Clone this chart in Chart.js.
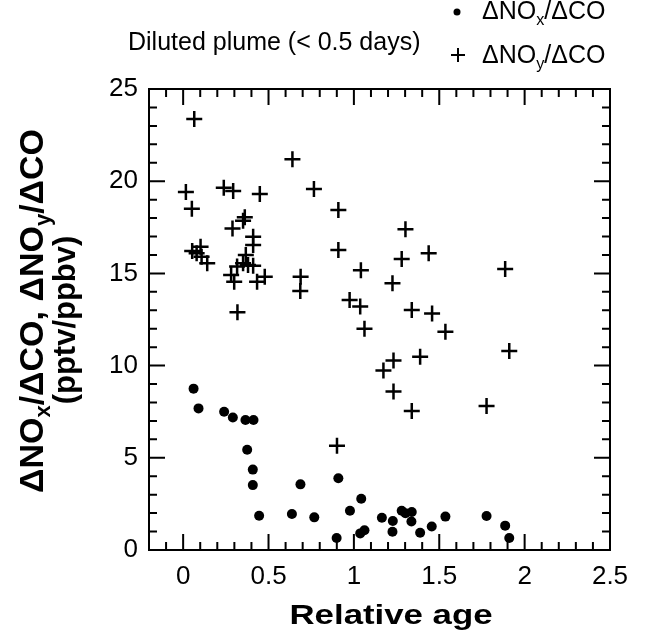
<!DOCTYPE html>
<html lang="en">
<head>
  <meta charset="UTF-8">
  <title>Diluted plume: NOx/CO and NOy/CO vs relative age</title>
  <script src="https://cdn.jsdelivr.net/npm/chart.js"></script>
  <style>
    html, body {
      margin: 0;
      padding: 0;
      background: #fff;
    }
    .chart-container {
      position: relative;
      width: 652px;
      height: 638px;
    }
  </style>
</head>
<body>

<div class="chart-container">
  <canvas id="plumeChart"></canvas>
</div>

<script>
  // Data
  const noxAge = [0.061, 0.09, 0.24, 0.291, 0.365, 0.412, 0.375, 0.408, 0.408, 0.445,
                  0.637, 0.687, 0.768, 0.909, 0.899, 0.977, 1.043, 1.037, 1.062, 1.164,
                  1.228, 1.226, 1.28, 1.302, 1.339, 1.337, 1.388, 1.456, 1.536, 1.777,
                  1.886, 1.91];
  const noxRatio = [8.75, 7.68, 7.5, 7.19, 7.05, 7.05, 5.44, 4.36, 3.52, 1.86,
                    1.95, 3.56, 1.77, 3.89, 0.65, 2.13, 2.78, 0.9, 1.07, 1.75,
                    1.57, 0.99, 2.13, 1.99, 2.06, 1.55, 0.94, 1.27, 1.81, 1.84,
                    1.32, 0.65];

  const noyAge = [0.065, 0.64, 0.016, 0.238, 0.293, 0.449, 0.051, 0.361, 0.351, 0.289,
                  0.41, 0.41, 0.053, 0.102, 0.079, 0.141, 0.108, 0.367, 0.351, 0.38,
                  0.316, 0.41, 0.281, 0.299, 0.478, 0.433, 0.318, 0.688, 0.686, 0.766,
                  0.909, 0.909, 1.041, 1.226, 1.28, 1.302, 0.975, 1.037, 1.062, 1.438,
                  1.886, 1.339, 1.458, 1.536, 1.91, 1.173, 1.232, 1.388, 1.232, 1.339,
                  1.777, 0.901];
  const noyRatio = [23.37, 21.19, 19.41, 19.65, 19.47, 19.31, 18.51, 18.04, 17.86, 17.44,
                    16.99, 16.54, 16.21, 16.45, 16.09, 15.55, 15.9, 16.0, 15.55, 15.46,
                    15.37, 15.42, 14.91, 14.55, 14.82, 14.55, 12.89, 14.82, 14.05, 19.58,
                    18.44, 16.27, 15.17, 14.46, 15.78, 17.39, 13.56, 13.2, 12.0, 16.09,
                    15.24, 13.02, 12.83, 11.84, 10.79, 9.73, 10.27, 10.48, 8.59, 7.54,
                    7.81, 5.66];

  const xTickLabels = [0, 0.5, 1, 1.5, 2, 2.5];
  const yTickLabels = [0, 5, 10, 15, 20, 25];

  const FONT = '"Liberation Sans", Arial, Helvetica, sans-serif';

  // draws text with subscripts, returns width
  function drawRich(ctx, parts, x, y, size, bold, measureOnly) {
    let cx = x;
    parts.forEach(p => {
      const s = p.sub ? size * 0.65 : size;
      ctx.font = (bold ? 'bold ' : '') + s + 'px ' + FONT;
      if (!measureOnly) ctx.fillText(p.t, cx, p.sub ? y + size * 0.22 : y);
      cx += ctx.measureText(p.t).width;
    });
    return cx - x;
  }

  // Frame with inward ticks on all four sides
  const framePlugin = {
    id: 'frame',
    afterDatasetsDraw(chart) {
      const ctx = chart.ctx;
      const a = chart.chartArea;
      const xs = chart.scales.x, ys = chart.scales.y;
      ctx.save();
      ctx.strokeStyle = '#000';
      ctx.lineWidth = 2;
      ctx.strokeRect(a.left, a.top, a.right - a.left, a.bottom - a.top);
      ctx.beginPath();
      for (let i = -1; i <= 24; i++) {
        const v = i / 10;
        const len = (i % 5 === 0) ? 16 : 8;
        const px = xs.getPixelForValue(v);
        ctx.moveTo(px, a.bottom); ctx.lineTo(px, a.bottom - len);
        ctx.moveTo(px, a.top); ctx.lineTo(px, a.top + len);
      }
      for (let v = 1; v < 25; v++) {
        const len = (v % 5 === 0) ? 16 : 8;
        const py = ys.getPixelForValue(v);
        ctx.moveTo(a.left, py); ctx.lineTo(a.left + len, py);
        ctx.moveTo(a.right, py); ctx.lineTo(a.right - len, py);
      }
      ctx.stroke();
      ctx.restore();
    }
  };

  // Axis titles and legend (need subscripts)
  const textPlugin = {
    id: 'texts',
    afterDraw(chart) {
      const ctx = chart.ctx;
      ctx.save();
      ctx.fillStyle = '#000';
      ctx.textAlign = 'left';
      ctx.textBaseline = 'alphabetic';

      // x title
      ctx.font = 'bold 28px ' + FONT;
      const xt = 'Relative age';
      const w = ctx.measureText(xt).width;
      ctx.save();
      ctx.translate(391, 624);
      ctx.scale(203 / w, 1);
      ctx.fillText(xt, -w / 2, 0);
      ctx.restore();

      // y title, two lines
      const line1 = [{t: '\u0394NO'}, {t: 'x', sub: true}, {t: '/\u0394CO, \u0394NO'}, {t: 'y', sub: true}, {t: '/\u0394CO'}];
      ctx.save();
      ctx.translate(43, 311);
      ctx.rotate(-Math.PI / 2);
      const w1 = drawRich(ctx, line1, 0, 0, 34, true, true);
      drawRich(ctx, line1, -w1 / 2, 0, 34, true);
      ctx.restore();
      ctx.save();
      ctx.translate(75, 320);
      ctx.rotate(-Math.PI / 2);
      ctx.font = 'bold 31px ' + FONT;
      ctx.textAlign = 'center';
      ctx.fillText('(pptv/ppbv)', 0, 0);
      ctx.restore();

      // legend
      ctx.font = '25px ' + FONT;
      ctx.fillText('Diluted plume (< 0.5 days)', 128, 50);
      ctx.beginPath();
      ctx.arc(457, 12, 3.5, 0, Math.PI * 2);
      ctx.fill();
      ctx.strokeStyle = '#000';
      ctx.lineWidth = 2;
      ctx.beginPath();
      ctx.moveTo(451, 55); ctx.lineTo(465, 55);
      ctx.moveTo(458, 48); ctx.lineTo(458, 62);
      ctx.stroke();
      drawRich(ctx, [{t: '\u0394NO'}, {t: 'x', sub: true}, {t: '/\u0394CO'}], 482, 19, 25, false);
      drawRich(ctx, [{t: '\u0394NO'}, {t: 'y', sub: true}, {t: '/\u0394CO'}], 482, 63, 25, false);
      ctx.restore();
    }
  };

  const ctx = document.getElementById('plumeChart').getContext('2d');
  new Chart(ctx, {
    type: 'scatter',
    data: {
      datasets: [{
        label: '\u0394NOx/\u0394CO',
        data: noxAge.map((x, i) => ({x: x, y: noxRatio[i]})),
        pointStyle: 'circle',
        pointRadius: 5,
        backgroundColor: '#000',
        borderColor: '#000',
        borderWidth: 0
      }, {
        label: '\u0394NOy/\u0394CO',
        data: noyAge.map((x, i) => ({x: x, y: noyRatio[i]})),
        pointStyle: 'cross',
        pointRadius: 8,
        backgroundColor: '#000',
        borderColor: '#000',
        borderWidth: 2.5
      }]
    },
    options: {
      responsive: true,
      maintainAspectRatio: false,
      animation: false,
      layout: {
        padding: {top: 89, right: 42, left: 0, bottom: 0}
      },
      scales: {
        x: {
          type: 'linear',
          min: -0.2,
          max: 2.5,
          afterBuildTicks: s => { s.ticks = xTickLabels.map(v => ({value: v})); },
          afterFit: s => { s.height = 88; },
          grid: {display: false},
          border: {display: false},
          ticks: {
            color: '#000',
            padding: 3,
            maxRotation: 0,
            autoSkip: false,
            font: {size: 26, family: FONT},
            callback: v => String(v)
          }
        },
        y: {
          min: 0,
          max: 25,
          afterBuildTicks: s => { s.ticks = yTickLabels.map(v => ({value: v})); },
          afterFit: s => { s.width = 149; },
          grid: {display: false},
          border: {display: false},
          ticks: {
            color: '#000',
            padding: 3,
            font: {size: 26, family: FONT},
            callback: v => String(v)
          }
        }
      },
      plugins: {
        legend: {display: false},
        tooltip: {enabled: false}
      }
    },
    plugins: [framePlugin, textPlugin]
  });
</script>

</body>
</html>
